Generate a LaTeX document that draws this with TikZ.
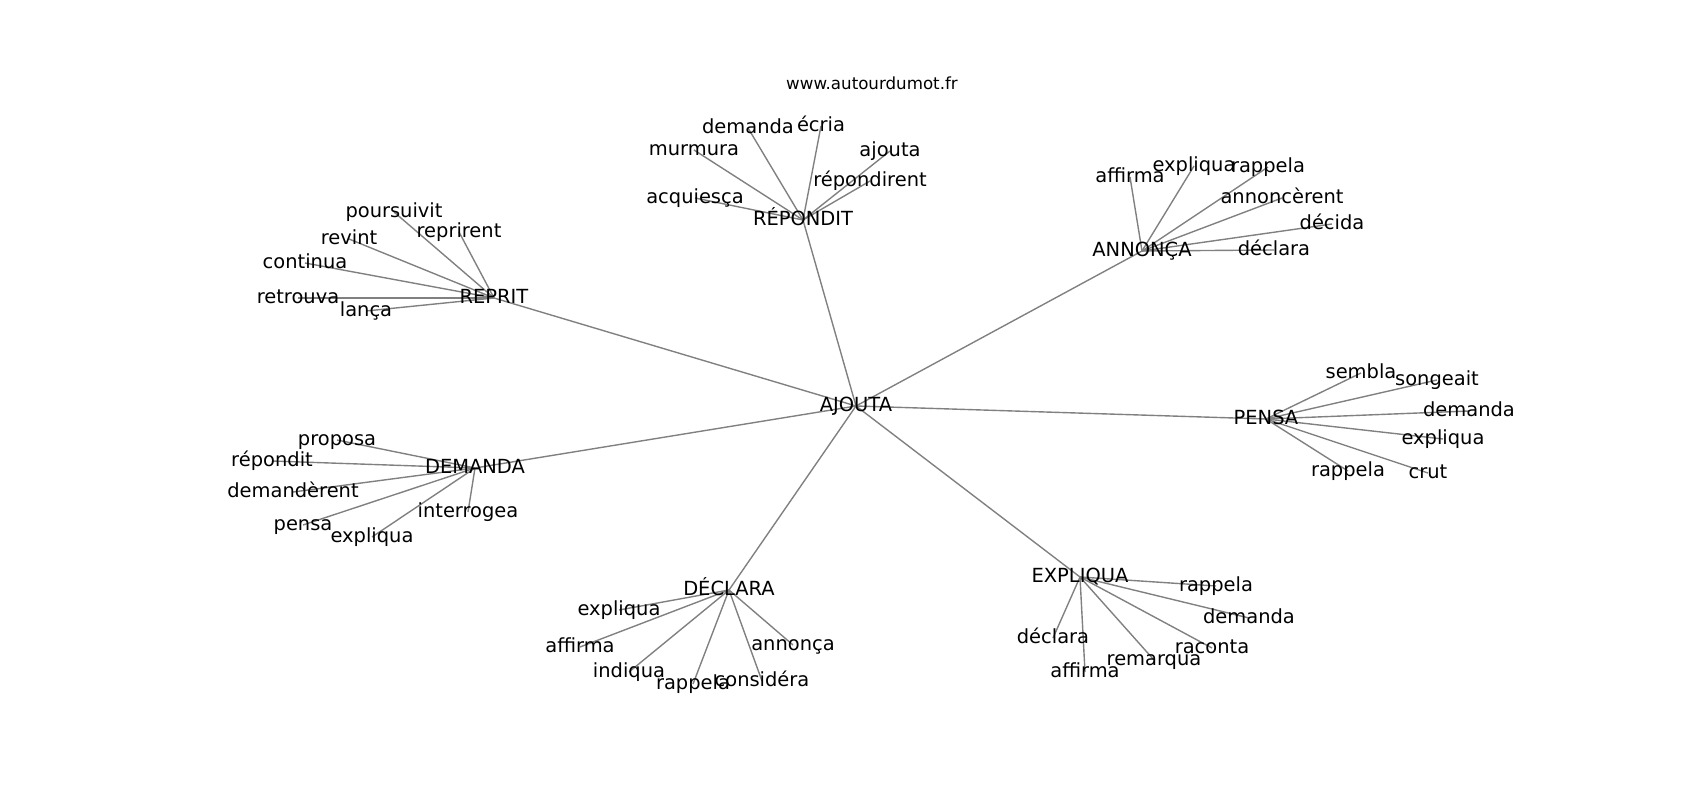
\documentclass[tikz,border=0pt]{standalone}
\usepackage{fontspec}
\setmainfont{DejaVu Sans}
\usetikzlibrary{backgrounds}
\tikzset{
  lbl/.style={inner sep=0pt, outer sep=0pt, anchor=center, text height=10.6bp, text depth=3.3bp,
    font=\fontsize{14bp}{16bp}\selectfont},
  ttl/.style={inner sep=0pt, anchor=center, font=\fontsize{12bp}{14bp}\selectfont},
  edge/.style={draw=gray, line width=1bp},
}
\begin{document}
\begin{tikzpicture}[x=0.01in, y=-0.01in]
\useasboundingbox (0,0) rectangle (1700,800);
\node[ttl] (title) at (872,83) {www.autourdumot.fr};
% hubs
\node[lbl] (ajouta) at (856,406) {AJOUTA};
\node[lbl] (reprit) at (494,298) {REPRIT};
\node[lbl] (repondit) at (803,220) {RÉPONDIT};
\node[lbl] (annonca) at (1142,251) {ANNONÇA};
\node[lbl] (pensa) at (1266,419) {PENSA};
\node[lbl] (demanda) at (475,468) {DEMANDA};
\node[lbl] (declara) at (729,590) {DÉCLARA};
\node[lbl] (expliqua) at (1080,577) {EXPLIQUA};
% RÉPONDIT leaves
\node[lbl] (r1) at (748,128) {demanda};
\node[lbl] (r2) at (821,126) {écria};
\node[lbl] (r3) at (694,150) {murmura};
\node[lbl] (r4) at (890,151) {ajouta};
\node[lbl] (r5) at (870,181) {répondirent};
\node[lbl] (r6) at (695,198) {acquiesça};
% REPRIT leaves
\node[lbl] (p1) at (394,212) {poursuivit};
\node[lbl] (p2) at (459,232) {reprirent};
\node[lbl] (p3) at (349,239) {revint};
\node[lbl] (p4) at (305,263) {continua};
\node[lbl] (p5) at (298,298) {retrouva};
\node[lbl] (p6) at (366,311) {lança};
% ANNONÇA leaves
\node[lbl] (a1) at (1130,177) {affirma};
\node[lbl] (a2) at (1194,166) {expliqua};
\node[lbl] (a3) at (1268,167) {rappela};
\node[lbl] (a4) at (1282,198) {annoncèrent};
\node[lbl] (a5) at (1332,224) {décida};
\node[lbl] (a6) at (1274,250) {déclara};
% PENSA leaves
\node[lbl] (s1) at (1361,373) {sembla};
\node[lbl] (s2) at (1437,380) {songeait};
\node[lbl] (s3) at (1469,411) {demanda};
\node[lbl] (s4) at (1443,439) {expliqua};
\node[lbl] (s5) at (1348,471) {rappela};
\node[lbl] (s6) at (1428,473) {crut};
% DEMANDA leaves
\node[lbl] (d1) at (337,440) {proposa};
\node[lbl] (d2) at (272,461) {répondit};
\node[lbl] (d3) at (293,492) {demandèrent};
\node[lbl] (d4) at (303,525) {pensa};
\node[lbl] (d5) at (372,537) {expliqua};
\node[lbl] (d6) at (468,512) {interrogea};
% DÉCLARA leaves
\node[lbl] (c1) at (619,610) {expliqua};
\node[lbl] (c2) at (580,647) {affirma};
\node[lbl] (c3) at (629,672) {indiqua};
\node[lbl] (c4) at (693,684) {rappela};
\node[lbl] (c5) at (762,681) {considéra};
\node[lbl] (c6) at (793,645) {annonça};
% EXPLIQUA leaves
\node[lbl] (e1) at (1216,586) {rappela};
\node[lbl] (e2) at (1249,618) {demanda};
\node[lbl] (e3) at (1212,648) {raconta};
\node[lbl] (e4) at (1154,660) {remarqua};
\node[lbl] (e5) at (1053,638) {déclara};
\node[lbl] (e6) at (1085,672) {affirma};
\begin{pgfonlayer}{background}
\foreach \h in {reprit,repondit,annonca,pensa,demanda,declara,expliqua}
  \draw[edge] (ajouta.center) -- (\h.center);
\foreach \l in {r1,r2,r3,r4,r5,r6} \draw[edge] (repondit.center) -- (\l.center);
\foreach \l in {p1,p2,p3,p4,p5,p6} \draw[edge] (reprit.center) -- (\l.center);
\foreach \l in {a1,a2,a3,a4,a5,a6} \draw[edge] (annonca.center) -- (\l.center);
\foreach \l in {s1,s2,s3,s4,s5,s6} \draw[edge] (pensa.center) -- (\l.center);
\foreach \l in {d1,d2,d3,d4,d5,d6} \draw[edge] (demanda.center) -- (\l.center);
\foreach \l in {c1,c2,c3,c4,c5,c6} \draw[edge] (declara.center) -- (\l.center);
\foreach \l in {e1,e2,e3,e4,e5,e6} \draw[edge] (expliqua.center) -- (\l.center);
\end{pgfonlayer}
\end{tikzpicture}
\end{document}
